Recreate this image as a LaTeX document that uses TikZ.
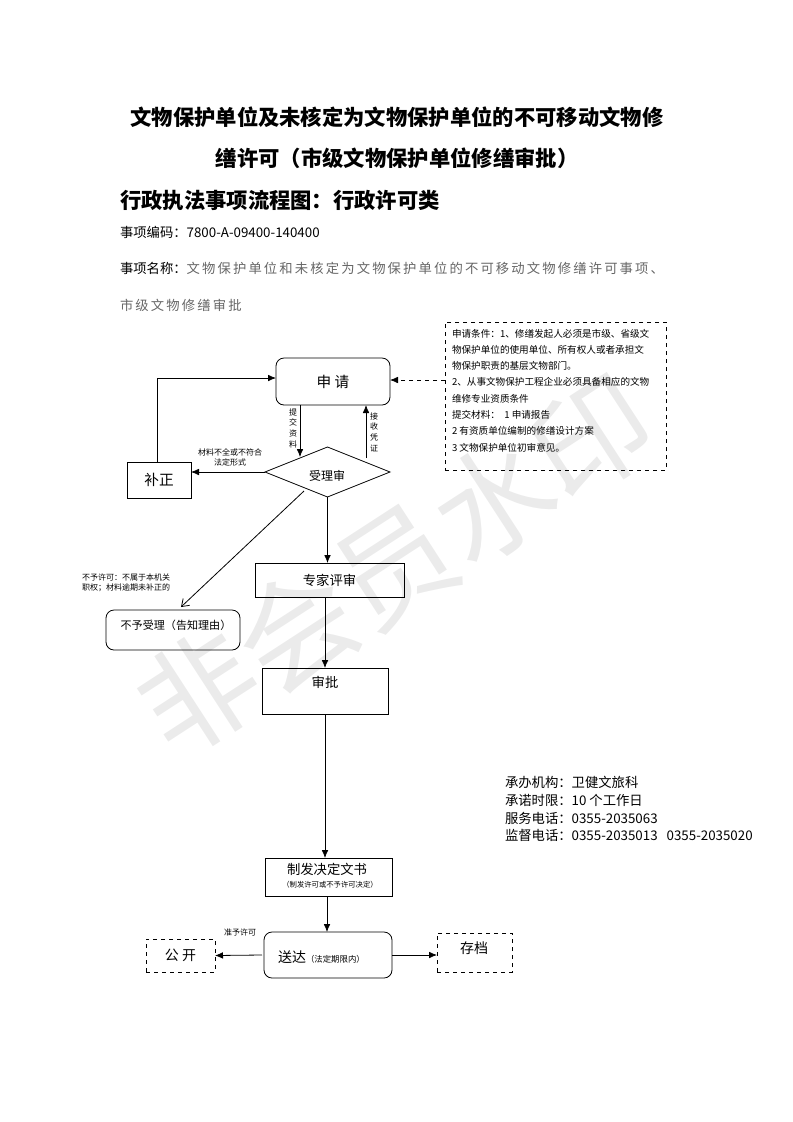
\documentclass[tikz,border=0pt]{standalone}
\usepackage{fontspec}
\setmainfont{Noto Sans CJK SC}
\usetikzlibrary{arrows.meta,shapes.geometric}
\newfontfamily\spaced[LetterSpace=16]{Noto Sans CJK SC}
\begin{document}
\begin{tikzpicture}[x=0.75pt,y=-0.75pt,
  every node/.style={inner sep=0pt,outer sep=0pt},
  box/.style={draw,line width=0.6pt},
  rbox/.style={draw,line width=0.6pt,rounded corners=6pt},
  dbox/.style={draw,dashed,line width=0.6pt},
  arr/.style={line width=0.6pt,-{Latex[length=6pt,width=5pt]}},
  oarr/.style={line width=0.6pt,-{Straight Barb[length=5pt,width=7pt]}},
  lbl/.style={font=\fontsize{6}{7.5}\selectfont,align=center},
  vlbl/.style={font=\fontsize{6}{8}\selectfont,align=center}]
\useasboundingbox (0,0) rectangle (793,1122);
% watermark
\node[text=black!8,rotate=33,font=\fontsize{88}{90}\selectfont] (wm) at (395,565) {非会员水印};
% header
\node[font=\fontsize{16}{18}\bfseries] (t1) at (397,117) {文物保护单位及未核定为文物保护单位的不可移动文物修};
\node[font=\fontsize{16}{18}\bfseries] (t2) at (397,158) {缮许可（市级文物保护单位修缮审批）};
\node[font=\fontsize{16}{18}\bfseries,anchor=west] (t3) at (120,200) {行政执法事项流程图：行政许可类};
\node[font=\fontsize{10}{12}\selectfont,anchor=west] (c1) at (120,232) {事项编码：7800-A-09400-140400};
\node[font=\fontsize{10}{12}\selectfont,anchor=west] (c2) at (120,268) {事项名称：{\spaced\color{black!60}文物保护单位和未核定为文物保护单位的不可移动文物修缮许可事项、}};
\node[font=\fontsize{10}{12}\selectfont,anchor=west,text=black!60] (c3) at (120,305) {\spaced 市级文物修缮审批};
% boxes
\node[rbox,minimum width=114*0.75pt,minimum height=47*0.75pt,font=\fontsize{11}{13}\selectfont] (sq) at (333,381.5) {申\ 请};
\node[dbox,minimum width=221*0.75pt,minimum height=148*0.75pt] (cond) at (555.5,396) {};
\node[anchor=north west,font=\fontsize{7.2}{12.2}\selectfont,align=left] (condt) at (452,329) {申请条件：1、修缮发起人必须是市级、省级文\\物保护单位的使用单位、所有权人或者承担文\\物保护职责的基层文物部门。\\2、从事文物保护工程企业必须具备相应的文物\\维修专业资质条件\\提交材料：\ \ 1 申请报告\\2 有资质单位编制的修缮设计方案\\3 文物保护单位初审意见。};
\node[box,minimum width=64*0.75pt,minimum height=36*0.75pt,font=\fontsize{11}{13}\selectfont] (bz) at (159,480) {补正};
\node[draw,line width=0.6pt,diamond,aspect=2.5,minimum width=125*0.75pt,minimum height=50*0.75pt,inner sep=0pt,font=\fontsize{9}{11}\selectfont] (sl) at (327.5,472) {};
\node[font=\fontsize{9}{11}\selectfont] (slt) at (327,476) {受理审};
\node[box,minimum width=149*0.75pt,minimum height=34*0.75pt,font=\fontsize{10}{12}\selectfont] (zj) at (329.5,580) {专家评审};
\node[rbox,minimum width=134*0.75pt,minimum height=40*0.75pt] (byl) at (173,630) {};
\node[font=\fontsize{8.3}{10}\selectfont] (bylt) at (176,625) {不予受理（告知理由）};
\node[box,minimum width=126*0.75pt,minimum height=46*0.75pt] (sp) at (325,691) {};
\node[font=\fontsize{10}{12}\selectfont] (spt) at (325,682) {审批};
\node[box,minimum width=127*0.75pt,minimum height=38*0.75pt] (zf) at (328.5,877) {};
\node[font=\fontsize{10}{12}\selectfont] (zft) at (327,869) {制发决定文书};
\node[font=\fontsize{5.5}{7}\selectfont] (zft2) at (330,885) {（制发许可或不予许可决定）};
\node[rbox,minimum width=128*0.75pt,minimum height=46*0.75pt] (sd) at (328,955) {};
\node[anchor=west] (sdt) at (278,957) {{\fontsize{10.5}{12}\selectfont 送达}{\fontsize{6.3}{8}\selectfont （法定期限内）}};
\node[dbox,minimum width=69*0.75pt,minimum height=33*0.75pt,font=\fontsize{10.5}{12}\selectfont] (gk) at (180.5,955.5) {公\ 开};
\node[dbox,minimum width=75*0.75pt,minimum height=39*0.75pt] (cd) at (474.5,952.5) {};
\node[font=\fontsize{10.5}{12}\selectfont] (cdt) at (474,948) {存档};
% right info
\node[anchor=north west,font=\fontsize{10}{13.4}\selectfont,align=left] (info) at (505,776) {承办机构：卫健文旅科\\承诺时限：10 个工作日\\服务电话：0355-2035063\\监督电话：0355-2035013\ \ \ 0355-2035020};
% connectors
\coordinate (a1) at (157,378);
\draw[arr] (bz.north -| a1) -- (a1) -- (sq.west |- a1);
\draw[arr,dashed] (cond.west |- 0,380) -- (sq.east |- 0,380);
\coordinate (p1) at (300,405);
\coordinate (p2) at (300,457);
\draw[arr] (p1) -- (p2);
\node[vlbl] (l1) at (293,428) {提\\交\\资\\料};
\coordinate (q1) at (366,458);
\coordinate (q2) at (366,405);
\draw[arr] (q1) -- (q2);
\node[vlbl] (l2) at (374,432) {接\\收\\凭\\证};
\draw[arr] (sl.west) -- (bz.east |- sl.west);
\node[lbl] (l3) at (230,457) {材料不全或不符合\\法定形式};
\coordinate (d1) at (304,491);
\coordinate (d2) at (181,607);
\draw[oarr] (d1) -- (d2);
\node[lbl,align=left,anchor=west] (l4) at (82,583) {不予许可：不属于本机关\\职权；材料逾期未补正的};
\draw[arr] (sl.south) -- (sl.south |- zj.north);
\draw[arr] (325,597) -- (sp.north);
\draw[arr] (sp.south) -- (sp.south |- zf.north);
\draw[arr] (327,896) -- (327,932);
\draw[arr] (262,955) -- (gk.east);
\node[lbl] (l5) at (240,932) {准予许可};
\draw[arr] (sd.east) -- (cd.west |- sd.east);
\end{tikzpicture}
\end{document}
